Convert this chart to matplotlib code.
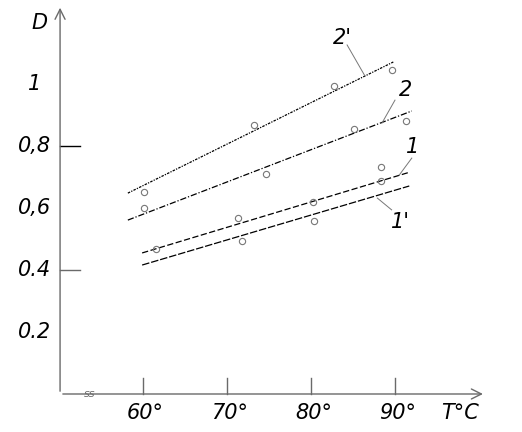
import matplotlib.pyplot as plt
import numpy as np

# temperatures (deg C) and optical density D
lines_T = {
    "2'": [58.2, 89.8],
    "2": [58.2, 92.0],
    "1": [59.9, 91.8],
    "1'": [59.9, 91.7],
}
lines_D = {
    "2'": [0.648, 1.071],
    "2": [0.561, 0.913],
    "1": [0.455, 0.716],
    "1'": [0.416, 0.671],
}
pts_T = {
    "2'": [60.1, 73.2, 82.7, 89.6],
    "2": [60.1, 74.6, 85.1, 91.3],
    "1": [61.5, 71.3, 80.2, 88.3, 88.3],
    "1'": [71.8, 80.4],
}
pts_D = {
    "2'": [0.652, 0.868, 0.994, 1.045],
    "2": [0.600, 0.710, 0.855, 0.880],
    "1": [0.468, 0.568, 0.619, 0.687, 0.732],
    "1'": [0.494, 0.558],
}
x_ticks = [60, 70, 80, 90]
x_labels = ["60°", "70°", "80°", "90°"]
y_ticks = [0.8, 0.4]
y_label_pos = [1.0, 0.8, 0.6, 0.4, 0.2]
y_labels = ["1", "0,8", "0,6", "0.4", "0.2"]

styles = {
    "2'": (0, (2, 1, 1, 1)),
    "2": (0, (5, 1.5, 1, 1.5)),
    "1": (0, (5, 2)),
    "1'": (0, (6, 1.5)),
}
# label text position and leader line (from, to)
label_pos = {
    "2'": (83.7, 1.150),
    "2": (91.2, 0.981),
    "1": (92.1, 0.797),
    "1'": (90.6, 0.555),
}
leader = {
    "2'": ((84.3, 1.126), (86.4, 1.027)),
    "2": ((90.0, 0.948), (88.45, 0.874)),
    "1": ((92.0, 0.761), (90.5, 0.706)),
    "1'": ((89.6, 0.594), (87.9, 0.632)),
}

fig = plt.figure(figsize=(5.22, 4.32), dpi=100)
ax = fig.add_axes([0, 0, 1, 1])
ax.set_xlim(42.98, 105.12)
ax.set_ylim(-0.1226, 1.271)
ax.axis('off')

axc = '#6a6a6a'
x0 = 50.13
# axes with arrows
ax.annotate('', xy=(x0, 1.255), xytext=(x0, 0), arrowprops=dict(arrowstyle='->', color=axc, lw=1, mutation_scale=18))
ax.annotate('', xy=(100.8, 0), xytext=(x0, 0), arrowprops=dict(arrowstyle='->', color=axc, lw=1, mutation_scale=18))

for t in x_ticks:
    ax.plot([t, t], [0, 0.05], color=axc, lw=1)
for v in y_ticks:
    ax.plot([x0, x0 + 2.4], [v, v], color='black' if v == 0.8 else axc, lw=1)

font = dict(family='DejaVu Sans', style='italic', fontsize=15)
for t, s in zip(x_ticks, x_labels):
    ax.text(t + 0.3, -0.03, s, ha='center', va='top', **font)
ax.text(97.7, -0.03, 'T°C', ha='center', va='top', **font)
for v, s in zip(y_label_pos, y_labels):
    ax.text(47.14, v, s, ha='center', va='center', **font)
ax.text(47.74, 1.197, 'D', ha='center', va='center', **font)

# axis break mark
ax.text(53.7, 0.0, 'ss', ha='center', va='center', fontsize=8, color=axc, style='italic')

for k in lines_T:
    ax.plot(lines_T[k], lines_D[k], color='black', lw=0.9, linestyle=styles[k])
    ax.plot(pts_T[k], pts_D[k], 'o', mfc='none', mec='#777777', ms=4.5, mew=0.8)
    ax.text(*label_pos[k], k, ha='center', va='center', **font)
    (a, b), (c, d) = leader[k]
    ax.plot([a, c], [b, d], color='#777777', lw=0.7)

fig.savefig('out.png', dpi=100)
